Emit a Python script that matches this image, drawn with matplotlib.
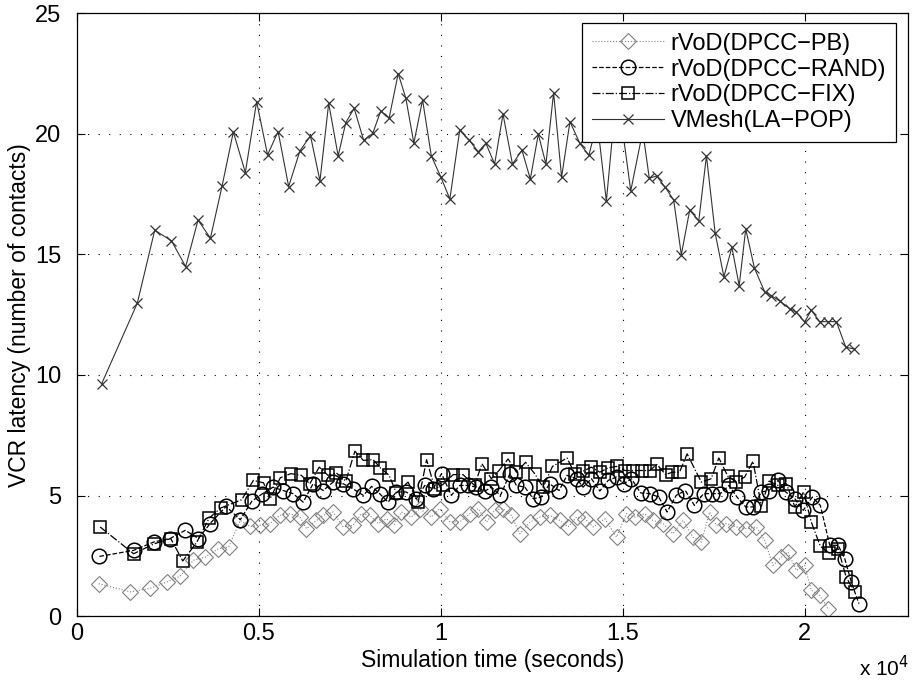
import matplotlib
matplotlib.use("Agg")
import matplotlib.pyplot as plt
from matplotlib.ticker import FuncFormatter

plt.rcParams['font.family'] = ['Liberation Sans', 'DejaVu Sans']

# rVoD(DPCC-PB): simulation time (s) and VCR latency
t_pb = [600, 1470, 2010, 2470, 2840, 3200, 3530, 3890, 4170, 4490,
        4760, 5030, 5300, 5580, 5850, 6130, 6310, 6580, 6770, 7040,
        7320, 7590, 7820, 8050, 8280, 8510, 8720, 8920, 9190, 9420,
        9740, 9970, 10250, 10520, 10800, 11030, 11260, 11480, 11710, 11940,
        12170, 12450, 12720, 12990, 13270, 13500, 13730, 13960, 14190, 14510,
        14830, 15100, 15330, 15600, 15830, 16110, 16380, 16660, 16930, 17160,
        17390, 17570, 17850, 18120, 18400, 18670, 18900, 19130, 19360, 19540,
        19770, 20000, 20180, 20410, 20640]
lat_pb = [1.35, 1.01, 1.15, 1.42, 1.66, 2.32, 2.45, 2.80, 2.87, 3.97,
          3.72, 3.77, 3.84, 4.18, 4.25, 4.11, 3.63, 3.97, 4.18, 4.32,
          3.70, 3.77, 4.25, 4.18, 3.84, 4.04, 3.80, 4.32, 4.11, 4.46,
          4.11, 4.46, 3.91, 3.91, 4.25, 4.46, 3.90, 4.39, 4.46, 4.18,
          3.42, 3.90, 4.11, 4.18, 3.97, 3.70, 4.11, 4.04, 3.70, 4.04,
          3.28, 4.25, 4.11, 4.25, 3.97, 3.84, 3.42, 3.97, 3.28, 3.08,
          4.32, 3.77, 3.84, 3.70, 3.63, 3.70, 3.15, 2.11, 2.45, 2.66,
          1.90, 2.11, 1.08, 0.87, 0.32]

# rVoD(DPCC-RAND)
t_rand = [620, 1560, 2120, 2560, 2980, 3340, 3660, 4100, 4490, 4810,
          5100, 5390, 5670, 5940, 6220, 6490, 6770, 7040, 7320, 7590,
          7870, 8100, 8320, 8550, 8780, 9050, 9330, 9560, 9790, 10020,
          10290, 10520, 10750, 10980, 11210, 11390, 11640, 11900, 12080, 12310,
          12540, 12760, 12990, 13250, 13470, 13730, 13910, 14140, 14370, 14600,
          14830, 15030, 15240, 15490, 15740, 15990, 16220, 16470, 16720, 16970,
          17220, 17460, 17680, 17920, 18140, 18380, 18580, 18810, 19020, 19270,
          19480, 19730, 19960, 20210, 20430, 20690, 20920, 21100, 21280, 21490]
lat_rand = [2.48, 2.73, 3.08, 3.22, 3.56, 3.22, 3.84, 4.55, 4.00, 4.77,
            5.08, 5.35, 5.21, 5.08, 4.73, 5.49, 5.21, 5.56, 5.49, 5.28,
            5.01, 5.38, 5.08, 4.73, 5.15, 5.15, 4.87, 5.42, 5.28, 5.91,
            5.01, 5.42, 5.42, 5.35, 5.18, 5.35, 5.01, 5.91, 5.42, 5.35,
            4.87, 4.94, 5.49, 5.21, 5.84, 5.70, 5.35, 5.70, 5.19, 5.63,
            5.77, 5.49, 5.70, 5.11, 5.08, 4.94, 4.32, 5.01, 5.21, 4.59,
            5.08, 5.08, 5.08, 5.42, 4.94, 4.53, 4.53, 5.15, 5.21, 5.63,
            5.15, 4.87, 4.39, 4.94, 4.59, 2.94, 2.94, 2.39, 1.42, 0.52]

# rVoD(DPCC-FIX)
t_fix = [640, 1560, 2120, 2580, 2910, 3300, 3640, 3960, 4530, 4850,
         5130, 5310, 5590, 5880, 6170, 6400, 6660, 6900, 7130, 7390,
         7640, 7870, 8140, 8340, 8580, 8780, 9100, 9380, 9610, 9840,
         10060, 10340, 10610, 10930, 11130, 11390, 11600, 11850, 12080, 12330,
         12580, 12810, 13070, 13470, 13680, 13910, 14140, 14370, 14600, 14830,
         15060, 15290, 15520, 15740, 15940, 16180, 16360, 16560, 16770, 17160,
         17430, 17640, 17890, 18120, 18350, 18580, 18810, 19020, 19270, 19500,
         19730, 19970, 20180, 20430, 20670, 20920, 21140, 21370]
lat_fix = [3.70, 2.59, 3.00, 3.22, 2.29, 3.08, 4.08, 4.49, 4.83, 5.63,
           5.53, 4.87, 5.74, 5.91, 5.84, 5.49, 6.18, 5.84, 5.94, 5.60,
           6.84, 6.46, 6.49, 6.15, 5.84, 5.11, 5.56, 4.73, 6.49, 5.28,
           5.46, 5.87, 5.87, 5.42, 6.32, 5.70, 6.04, 6.52, 5.97, 6.38,
           5.91, 5.35, 6.21, 6.56, 5.91, 6.01, 6.18, 5.97, 6.15, 6.21,
           6.04, 6.04, 6.04, 6.04, 6.29, 5.87, 5.97, 5.97, 6.73, 5.56,
           5.70, 6.56, 5.80, 5.56, 5.77, 6.42, 4.56, 5.60, 5.42, 5.49,
           4.53, 5.15, 3.91, 2.90, 2.63, 2.80, 1.62, 1.00]

# VMesh(LA-POP)
t_vm = [680, 1660, 2140, 2600, 2990, 3330, 3670, 3990, 4300, 4630,
        4940, 5240, 5530, 5820, 6130, 6420, 6680, 6920, 7180, 7390,
        7620, 7880, 8130, 8350, 8580, 8830, 9040, 9260, 9500, 9740,
        10000, 10250, 10520, 10780, 11030, 11240, 11480, 11710, 11970, 12230,
        12460, 12680, 12890, 13100, 13320, 13550, 13820, 14070, 14300, 14550,
        14840, 15220, 15550, 15730, 15930, 16170, 16400, 16610, 16840, 17090,
        17300, 17540, 17780, 18000, 18200, 18380, 18620, 18900, 19080, 19330,
        19590, 19770, 20000, 20180, 20410, 20640, 20870, 21130, 21350]
lat_vm = [9.63, 12.97, 16.0, 15.56, 14.49, 16.42, 15.67, 17.83, 20.07, 18.39,
          21.33, 19.12, 20.09, 17.81, 19.29, 19.91, 18.05, 21.26, 19.08, 20.46,
          21.05, 19.73, 20.01, 20.94, 20.64, 22.49, 21.47, 19.61, 21.40, 19.08,
          18.21, 17.29, 20.14, 19.73, 19.25, 19.6, 18.74, 20.81, 18.74, 19.32,
          18.12, 19.98, 18.74, 21.70, 18.2, 20.5, 19.6, 19.1, 20.5, 17.2,
          21.9, 17.63, 20.1, 18.15, 18.25, 17.77, 17.25, 14.98, 16.83, 16.39,
          19.08, 15.88, 14.07, 15.29, 13.70, 16.05, 14.42, 13.45, 13.29, 13.05,
          12.74, 12.60, 12.19, 12.69, 12.21, 12.21, 12.21, 11.15, 11.08]

fig = plt.figure(figsize=(9.15, 6.87), dpi=100)
ax = fig.add_axes([0.084, 0.103, 0.908, 0.878])

ax.plot(t_pb, lat_pb, linestyle=':', color='#808080', linewidth=0.8,
        marker='D', markersize=8.5, markerfacecolor='none',
        markeredgecolor='#808080', markeredgewidth=0.8, label='rVoD(DPCC\u2212PB)')
ax.plot(t_rand, lat_rand, linestyle='--', color='black', linewidth=0.9,
        marker='o', markersize=10.5, markerfacecolor='none',
        markeredgewidth=1.1, label='rVoD(DPCC\u2212RAND)')
ax.plot(t_fix, lat_fix, linestyle='-.', color='black', linewidth=0.9,
        marker='s', markersize=9, markerfacecolor='none',
        markeredgewidth=1.1, label='rVoD(DPCC\u2212FIX)')
ax.plot(t_vm, lat_vm, linestyle='-', color='#333333', linewidth=0.8,
        marker='x', markersize=7, markeredgewidth=0.9, label='VMesh(LA\u2212POP)')

ax.set_xlim(0, 22830)
ax.set_ylim(0, 25)
ax.set_xticks([0, 5000, 10000, 15000, 20000])
ax.set_yticks([0, 5, 10, 15, 20, 25])
ax.xaxis.set_major_formatter(FuncFormatter(lambda v, p: '%g' % (v / 1e4)))
ax.grid(True, linestyle=(0, (1, 8.5)), color='black', linewidth=0.8)
ax.tick_params(direction='in', top=True, right=True, length=6, width=0.8,
               labelsize=17)
ax.tick_params(axis='x', pad=5)
ax.tick_params(axis='y', pad=11)
for s in ax.spines.values():
    s.set_linewidth(0.9)

ax.set_xlabel('Simulation time (seconds)', fontsize=16.5, labelpad=3)
ax.set_ylabel('VCR latency (number of contacts)', fontsize=16.5, labelpad=3)
fig.text(0.994, 0.01, r'x 10$^{4}$', ha='right', va='bottom', fontsize=15)

leg = ax.legend(loc='upper right', bbox_to_anchor=(0.9856, 0.983),
                borderaxespad=0, fancybox=False, edgecolor='black',
                framealpha=1, fontsize=17, handlelength=3.05,
                labelspacing=0.16, borderpad=0.4, handletextpad=0.3, numpoints=1)
leg.get_frame().set_linewidth(0.9)

fig.savefig('out.png', dpi=100)
